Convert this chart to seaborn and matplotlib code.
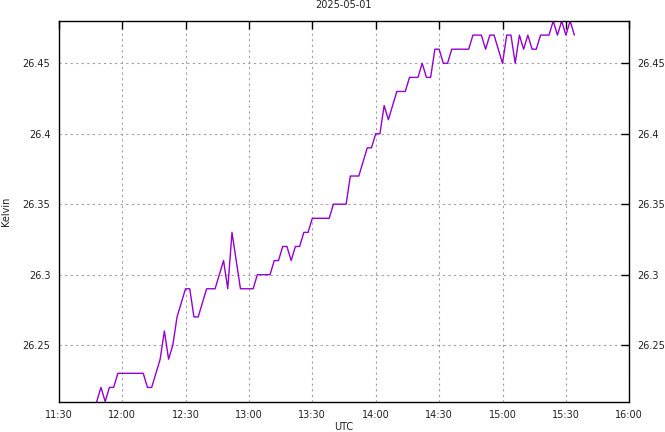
import pandas as pd
import seaborn as sns
import matplotlib.pyplot as plt
import matplotlib.dates as mdates

sns.set_theme(style='white')
plt.rcParams['font.family'] = ['DejaVu Sans']
FS = 7

DAY = '2025-05-01'

# readings every ~2 minutes
times = ['11:48', '11:50', '11:52', '11:54', '11:56', '11:58', '12:10', '12:12', '12:14', '12:16',
         '12:18', '12:20', '12:22', '12:24', '12:26', '12:28', '12:30', '12:32', '12:34', '12:36',
         '12:38', '12:40', '12:44', '12:46', '12:48', '12:50', '12:52', '12:54', '12:56', '13:02',
         '13:04', '13:10', '13:12', '13:14', '13:16', '13:18', '13:20', '13:22', '13:24', '13:26',
         '13:28', '13:30', '13:38', '13:40', '13:46', '13:48', '13:52', '13:54', '13:56', '13:58',
         '14:00', '14:02', '14:04', '14:06', '14:08', '14:10', '14:14', '14:16', '14:20', '14:22',
         '14:24', '14:26', '14:28', '14:30', '14:32', '14:34', '14:36', '14:44', '14:46', '14:50',
         '14:52', '14:54', '14:56', '14:58', '15:00', '15:02', '15:04', '15:06', '15:08', '15:10',
         '15:12', '15:14', '15:16', '15:18', '15:22', '15:24', '15:26', '15:28', '15:30', '15:32',
         '15:34']
kelvin = [26.21, 26.22, 26.21, 26.22, 26.22, 26.23, 26.23, 26.22, 26.22, 26.23,
          26.24, 26.26, 26.24, 26.25, 26.27, 26.28, 26.29, 26.29, 26.27, 26.27,
          26.28, 26.29, 26.29, 26.30, 26.31, 26.29, 26.33, 26.31, 26.29, 26.29,
          26.30, 26.30, 26.31, 26.31, 26.32, 26.32, 26.31, 26.32, 26.32, 26.33,
          26.33, 26.34, 26.34, 26.35, 26.35, 26.37, 26.37, 26.38, 26.39, 26.39,
          26.40, 26.40, 26.42, 26.41, 26.42, 26.43, 26.43, 26.44, 26.44, 26.45,
          26.44, 26.44, 26.46, 26.46, 26.45, 26.45, 26.46, 26.46, 26.47, 26.47,
          26.46, 26.47, 26.47, 26.46, 26.45, 26.47, 26.47, 26.45, 26.47, 26.46,
          26.47, 26.46, 26.46, 26.47, 26.47, 26.48, 26.47, 26.48, 26.47, 26.48,
          26.47]
y_ticks = [26.25, 26.3, 26.35, 26.4, 26.45]

df = pd.DataFrame({'UTC': pd.to_datetime([f'{DAY} {t}' for t in times]), 'Kelvin': kelvin})

fig = plt.figure(figsize=(6.65, 4.32), dpi=100)
ax = fig.add_axes([58.7 / 665, 1 - 401.5 / 432, (629.3 - 58.7) / 665, (401.5 - 21) / 432])
sns.lineplot(df, x='UTC', y='Kelvin', ax=ax, color='#9400d3', linewidth=1)

ax.set_xlim(pd.Timestamp(f'{DAY} 11:30'), pd.Timestamp(f'{DAY} 16:00'))
ax.set_ylim(26.21, 26.48)
ax.xaxis.set_major_locator(mdates.MinuteLocator(byminute=[0, 30]))
ax.xaxis.set_major_formatter(mdates.DateFormatter('%H:%M'))
ax.set_yticks(y_ticks)
ax.set_yticklabels([f'{v:g}' for v in y_ticks])

ax.grid(True, color='#a0a0a0', linestyle=(0, (2, 3)), linewidth=0.8)
ax.tick_params(direction='in', length=6, width=1, color='black', labelsize=FS,
               labelcolor='#222222', top=True, right=True, labelright=True, pad=6)
for s in ax.spines.values():
    s.set_color('black')
    s.set_linewidth(1)

ax.set_xlabel('UTC', fontsize=FS, color='#222222', va='center')
ax.xaxis.set_label_coords(0.5, (401.5 - 427) / 380.5)
ax.set_ylabel('Kelvin', fontsize=FS, color='#222222', va='center')
ax.yaxis.set_label_coords((6 - 58.7) / 570.6, 0.5)
fig.text(344 / 665, 1 - 5 / 432, DAY, fontsize=FS, color='#222222', ha='center', va='center')

fig.savefig('out.png', dpi=100)
plt.close()
